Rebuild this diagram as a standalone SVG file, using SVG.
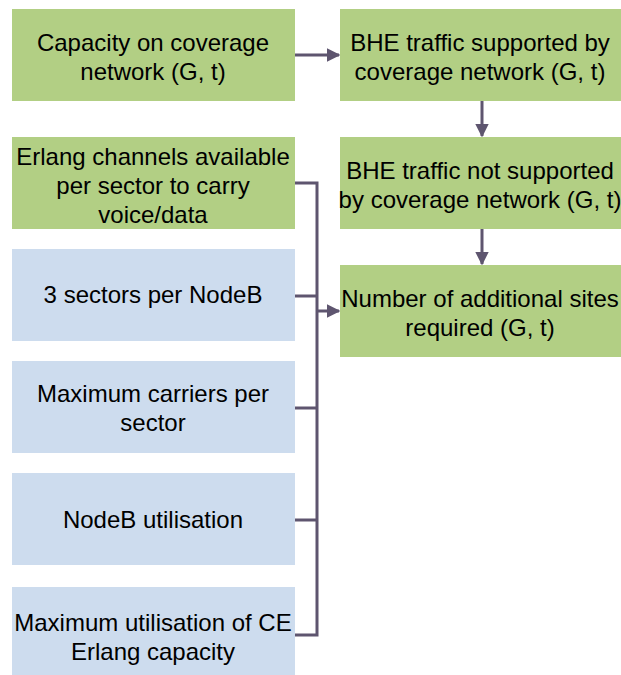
<svg xmlns="http://www.w3.org/2000/svg" width="621" height="675" viewBox="0 0 621 675">
<style>
.g{fill:#b2cf84}
.b{fill:#cddcee}
text{font-family:"Liberation Sans",Arial,sans-serif;font-size:24px;fill:#000;text-anchor:middle}
.c{stroke:#5e556f;stroke-width:3;fill:none}
</style>
<defs>
<marker id="a" viewBox="0 0 10 10" refX="9" refY="5" markerWidth="4.5" markerHeight="4.5" orient="auto" markerUnits="strokeWidth">
<path d="M0,0 L10,5 L0,10 z" fill="#5e556f"/>
</marker>
</defs>
<rect width="621" height="675" fill="#fff"/>
<g id="n1"><rect class="g" x="12" y="9" width="283" height="92"/><text x="153" y="51">Capacity on coverage</text><text x="153" y="80">network (G, t)</text></g>
<g id="n2"><rect class="g" x="12" y="137" width="283" height="92"/><text x="153" y="165">Erlang channels available</text><text x="153" y="194">per sector to carry</text><text x="153" y="223">voice/data</text></g>
<g id="n3"><rect class="b" x="12" y="249" width="283" height="92"/><text x="153" y="303">3 sectors per NodeB</text></g>
<g id="n4"><rect class="b" x="12" y="361" width="283" height="92"/><text x="153" y="402">Maximum carriers per</text><text x="153" y="431">sector</text></g>
<g id="n5"><rect class="b" x="12" y="473" width="283" height="92"/><text x="153" y="528">NodeB utilisation</text></g>
<g id="n6"><rect class="b" x="12" y="587" width="283" height="90"/><text x="153" y="631">Maximum utilisation of CE</text><text x="153" y="660">Erlang capacity</text></g>
<g id="r1"><rect class="g" x="340" y="9" width="281" height="92"/><text x="480" y="51">BHE traffic supported by</text><text x="480" y="80">coverage network (G, t)</text></g>
<g id="r2"><rect class="g" x="340" y="137" width="281" height="92"/><text x="480" y="179">BHE traffic not supported</text><text x="480" y="208">by coverage network (G, t)</text></g>
<g id="r3"><rect class="g" x="340" y="265" width="281" height="92"/><text x="480" y="307">Number of additional sites</text><text x="480" y="336">required (G, t)</text></g>
<g id="connectors">
<line class="c" x1="295" y1="55" x2="339" y2="55" marker-end="url(#a)"/>
<line class="c" x1="482" y1="101" x2="482" y2="136" marker-end="url(#a)"/>
<line class="c" x1="482" y1="229" x2="482" y2="264" marker-end="url(#a)"/>
<path class="c" d="M295,183 H317 V635 H295"/>
<line class="c" x1="295" y1="296" x2="317" y2="296"/>
<line class="c" x1="295" y1="408" x2="317" y2="408"/>
<line class="c" x1="295" y1="520" x2="317" y2="520"/>
<line class="c" x1="317" y1="311" x2="339" y2="311" marker-end="url(#a)"/>
</g>
</svg>
